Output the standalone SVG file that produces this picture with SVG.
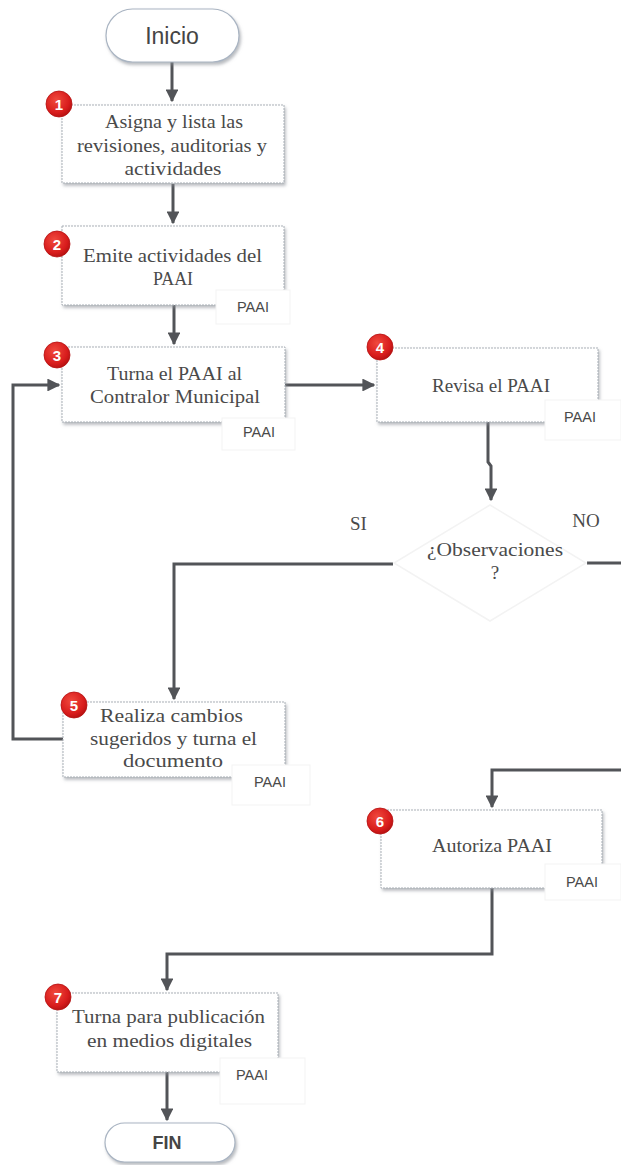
<svg xmlns="http://www.w3.org/2000/svg" width="621" height="1165" viewBox="0 0 621 1165">
<style>
.box{fill:#fff;stroke:#a9afb6;stroke-width:1;stroke-dasharray:2 1;filter:url(#sh)}
.pill{fill:#fff;stroke:#a9b4c2;stroke-width:1.2;filter:url(#sh)}
.tag{fill:#fff;stroke:#f3f3f3;stroke-width:1}
.t{font-family:"Liberation Serif",serif;font-size:19px;fill:#4a4a4a;text-anchor:middle}
.s{font-family:"Liberation Sans",sans-serif;fill:#454545;text-anchor:middle}
.tg{font-family:"Liberation Sans",sans-serif;font-size:14.5px;fill:#4a4a4a;text-anchor:middle}
.b{fill:url(#rg);stroke:#b51010;stroke-width:0.8}
.bn{font-family:"Liberation Sans",sans-serif;font-size:15px;font-weight:bold;fill:#fff;text-anchor:middle}
.c{fill:none;stroke:#525458;stroke-width:3;stroke-linejoin:miter}
</style>
<defs>
<filter id="sh" x="-10%" y="-10%" width="125%" height="130%">
<feDropShadow dx="1.5" dy="2.5" stdDeviation="1.5" flood-color="#8a8f96" flood-opacity="0.6"/>
</filter>
<radialGradient id="rg" cx="0.4" cy="0.35" r="0.7">
<stop offset="0" stop-color="#f04a3e"/>
<stop offset="0.7" stop-color="#d81c1c"/>
<stop offset="1" stop-color="#b01010"/>
</radialGradient>
<marker id="ar" viewBox="0 0 10 10" refX="9" refY="5" markerWidth="4.3" markerHeight="4.3" orient="auto" markerUnits="strokeWidth">
<path d="M0 0 L10 5 L0 10 Z" fill="#525458"/>
</marker>
</defs>

<g id="connectors">
<path class="c" d="M172 62 V101" marker-end="url(#ar)"/>
<path class="c" d="M173 184 V223" marker-end="url(#ar)"/>
<path class="c" d="M174 305 V344" marker-end="url(#ar)"/>
<path class="c" d="M285 385 H374" marker-end="url(#ar)"/>
<path class="c" d="M488 422 V462 L491 466 V500" marker-end="url(#ar)"/>
<path class="c" d="M393 564 H174 V699" marker-end="url(#ar)"/>
<path class="c" d="M63 739 H13 V385 H59" marker-end="url(#ar)"/>
<path class="c" d="M587 563 H621"/>
<path class="c" d="M621 770 H492 V807" marker-end="url(#ar)"/>
<path class="c" d="M492 888 V954 H167 V990" marker-end="url(#ar)"/>
<path class="c" d="M167 1072 V1120" marker-end="url(#ar)"/>
</g>

<g id="inicio">
<rect class="pill" x="106" y="9" width="133" height="53" rx="26.5"/>
<text class="s" x="172" y="44" font-size="23">Inicio</text>
</g>

<g id="n1">
<rect class="box" x="62" y="105" width="222" height="78"/>
<text class="t" x="174" y="128" textLength="138" lengthAdjust="spacingAndGlyphs">Asigna y lista las</text>
<text class="t" x="172" y="152" textLength="190" lengthAdjust="spacingAndGlyphs">revisiones, auditorias y</text>
<text class="t" x="173" y="175" textLength="97" lengthAdjust="spacingAndGlyphs">actividades</text>
<circle class="b" cx="59" cy="104" r="13"/>
<text class="bn" x="59" y="109.5">1</text>
</g>

<g id="n2">
<rect class="box" x="62" y="226" width="222" height="79"/>
<text class="t" x="172.5" y="262" textLength="179" lengthAdjust="spacingAndGlyphs">Emite actividades del</text>
<text class="t" x="173" y="285" textLength="40" lengthAdjust="spacingAndGlyphs">PAAI</text>
<rect class="tag" x="216" y="290" width="74" height="34"/>
<text class="tg" x="253" y="312">PAAI</text>
<circle class="b" cx="57" cy="244" r="13"/>
<text class="bn" x="57" y="249.5">2</text>
</g>

<g id="n3">
<rect class="box" x="62" y="347" width="223" height="75"/>
<text class="t" x="174.5" y="380" textLength="135" lengthAdjust="spacingAndGlyphs">Turna el PAAI al</text>
<text class="t" x="175" y="403" textLength="170" lengthAdjust="spacingAndGlyphs">Contralor Municipal</text>
<rect class="tag" x="222" y="418" width="73" height="32"/>
<text class="tg" x="259" y="437">PAAI</text>
<circle class="b" cx="57" cy="355" r="13"/>
<text class="bn" x="57" y="360.5">3</text>
</g>

<g id="n4">
<rect class="box" x="377" y="348" width="221" height="74"/>
<text class="t" x="491" y="392" textLength="118" lengthAdjust="spacingAndGlyphs">Revisa el PAAI</text>
<rect class="tag" x="545" y="400" width="76" height="40"/>
<text class="tg" x="580" y="422">PAAI</text>
<circle class="b" cx="380" cy="347" r="13"/>
<text class="bn" x="380" y="352.5">4</text>
</g>

<g id="decision">
<path d="M490 505 L586 563 L490 621 L394 563 Z" fill="#fff" stroke="#f3f3f3" stroke-width="1.5"/>
<text class="t" x="495" y="556" textLength="136" lengthAdjust="spacingAndGlyphs">¿Observaciones</text>
<text class="t" x="495" y="579">?</text>
<text class="t" x="358.5" y="530" font-size="17">SI</text>
<text class="t" x="586" y="527" font-size="17">NO</text>
</g>

<g id="n5">
<rect class="box" x="63" y="702" width="222" height="75"/>
<text class="t" x="171.5" y="722" textLength="143" lengthAdjust="spacingAndGlyphs">Realiza cambios</text>
<text class="t" x="173.5" y="745" textLength="167" lengthAdjust="spacingAndGlyphs">sugeridos y turna el</text>
<text class="t" x="173" y="767" textLength="100" lengthAdjust="spacingAndGlyphs">documento</text>
<rect class="tag" x="232" y="765" width="78" height="40"/>
<text class="tg" x="270" y="787">PAAI</text>
<circle class="b" cx="74" cy="705" r="13"/>
<text class="bn" x="74" y="710.5">5</text>
</g>

<g id="n6">
<rect class="box" x="381" y="810" width="221" height="78"/>
<text class="t" x="492" y="852" textLength="120" lengthAdjust="spacingAndGlyphs">Autoriza PAAI</text>
<rect class="tag" x="545" y="864" width="76" height="36"/>
<text class="tg" x="582" y="887">PAAI</text>
<circle class="b" cx="380" cy="821" r="13"/>
<text class="bn" x="380" y="826.5">6</text>
</g>

<g id="n7">
<rect class="box" x="57" y="993" width="221" height="79"/>
<text class="t" x="168.5" y="1023" textLength="193" lengthAdjust="spacingAndGlyphs">Turna para publicación</text>
<text class="t" x="169.5" y="1047" textLength="165" lengthAdjust="spacingAndGlyphs">en medios digitales</text>
<rect class="tag" x="220" y="1058" width="85" height="46"/>
<text class="tg" x="252" y="1080">PAAI</text>
<circle class="b" cx="58" cy="997" r="13"/>
<text class="bn" x="58" y="1002.5">7</text>
</g>

<g id="fin">
<rect class="pill" x="105" y="1123" width="130" height="39" rx="19.5"/>
<text class="s" x="167" y="1149" font-size="18" font-weight="bold">FIN</text>
</g>
</svg>
